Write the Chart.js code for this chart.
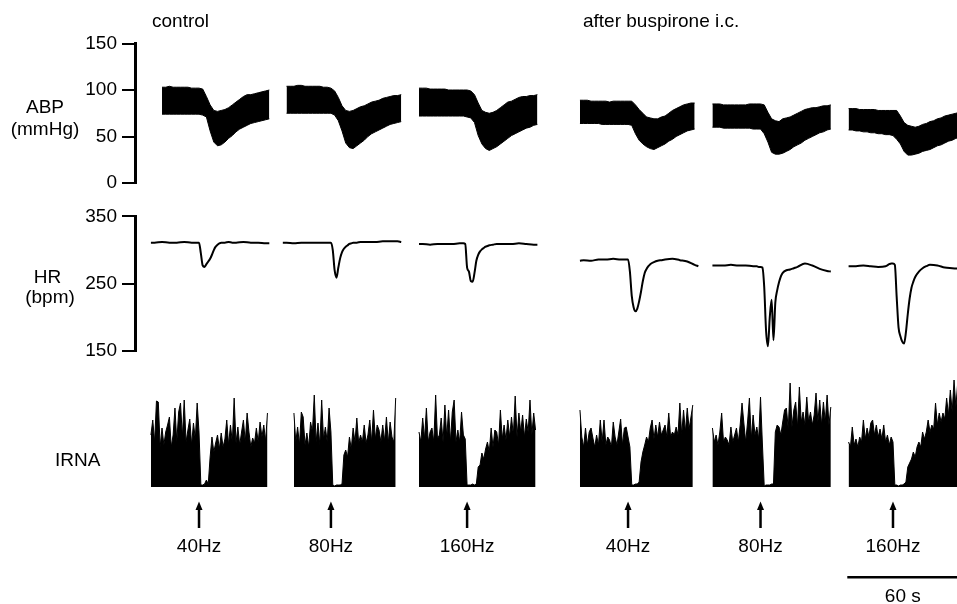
<!DOCTYPE html>
<html><head><meta charset="utf-8">
<script src="https://cdn.jsdelivr.net/npm/chart.js@4.4.0/dist/chart.umd.min.js"></script>
<style>
html,body{margin:0;padding:0;background:#fff;}
#wrap{position:relative;width:957px;height:604px;overflow:hidden;font-family:"Liberation Sans",Arial,Helvetica,sans-serif;color:#000;}
canvas{position:absolute;left:0;}
.lbl{position:absolute;font-size:19px;line-height:19px;white-space:nowrap;}
.c{text-align:center;}
</style></head><body>
<div id="wrap">
<canvas id="abp" width="957" height="200" style="top:0"></canvas>
<canvas id="hr" width="957" height="170" style="top:200px"></canvas>
<canvas id="irna" width="957" height="234" style="top:370px"></canvas>
<div class="lbl" style="left:152px;top:11px">control</div>
<div class="lbl" style="left:583px;top:11px">after buspirone i.c.</div>
<div class="lbl c" style="left:0;width:90px;top:97px">ABP</div>
<div class="lbl c" style="left:0;width:90px;top:119px">(mmHg)</div>
<div class="lbl c" style="left:0;width:95px;top:267px">HR</div>
<div class="lbl c" style="left:0;width:100px;top:287px">(bpm)</div>
<div class="lbl" style="left:55px;top:450px">IRNA</div>
</div>
<script>
const FONT = '"Liberation Sans", Arial, Helvetica, sans-serif';

// composite time axis (s)
const timeMax = 444.3;
const stimTimes = [34.6, 105.9, 179.5, 266.5, 338.1, 409.7];
const stimLabels = ['40Hz', '80Hz', '160Hz', '40Hz', '80Hz', '160Hz'];
const scaleBarStart = 385;
const scaleBarSeconds = 60;

// ABP tick values
const abpTicks = [0, 50, 100, 150];
const hrTicks = [150, 250, 350];

// ABP: time relative to stimulus (s)
const abpRel = [-26,-24,-22,-20,-18,-16,-14,-12,-10,-8,-6,-4,-2,0,2,4,6,8,10,12,14,16,18,20,22,24,26,28,30,32,34,36,38];
// ABP envelope (mmHg): upper (systolic) and lower (diastolic) per panel
const abpUp1 = [null,null,null,103,103,104,103,103,103,103,103,102,102,102,101,93,84,78,77,78,79,81,84,87,90,93,95,95,96,97,98,99,100];
const abpLo1 = [null,null,null,74,74,74,74,74,74,74,74,74,74,74,73,71,56,44,40,41,44,48,51,55,58,60,62,64,65,66,67,68,69];
const abpUp2 = [null,104,104,104,105,105,104,104,104,104,104,103,103,102,99,92,83,78,77,78,80,82,83,85,87,88,89,91,92,93,94,94,95];
const abpLo2 = [null,75,75,75,75,75,75,75,75,75,75,75,75,75,73,67,56,43,38,37,40,43,46,50,53,55,57,59,61,63,64,65,66];
const abpUp3 = [102,102,102,101,101,101,101,101,100,100,100,100,100,100,99,95,86,78,76,75,76,78,81,84,87,88,90,92,93,93,94,94,95];
const abpLo3 = [72,72,72,72,72,72,72,72,72,72,72,72,72,71,70,65,51,42,37,35,37,39,42,45,48,51,53,55,57,59,60,62,63];
const abpUp4 = [89,89,89,88,88,88,88,88,87,88,88,88,88,88,88,84,79,75,71,70,69,69,71,72,75,78,80,82,84,85,86,86,null];
const abpLo4 = [64,64,64,64,64,64,63,63,63,63,63,63,63,63,62,53,46,42,39,37,36,38,40,42,45,47,50,52,54,56,57,58,null];
const abpUp5 = [85,85,85,84,84,84,84,84,84,84,85,85,85,85,84,76,69,67,66,69,70,71,73,75,77,79,80,81,81,82,83,83,84];
const abpLo5 = [60,60,60,59,59,59,59,59,59,59,59,58,58,58,53,44,33,31,31,32,34,36,39,41,43,46,48,50,52,54,55,57,58];
const abpUp6 = [null,80,80,80,79,79,79,79,79,78,78,78,78,78,78,72,65,62,61,60,61,63,64,66,67,69,70,72,73,74,75,76,77];
const abpLo6 = [null,57,57,56,56,55,55,54,54,53,53,52,52,51,47,42,34,30,30,31,32,34,35,36,38,40,41,43,45,46,48,49,50];

// HR: time relative to stimulus (s)
const hrRel = [-26,-24,-20,-16,-12,-8,-4,-2,-1,0,1,2,3,4,5,6,7,8,9,10,11,12,14,16,18,20,24,28,32,36,38];
const hr1 = [311,311,312,311,311,312,311,311,311,311,295,277,275,279,283,287,293,300,305,308,310,311,311,312,311,311,312,311,311,310,310];
const hr2 = [311,311,310,311,311,311,311,311,311,311,300,270,259,274,288,297,302,305,307,309,310,311,311,312,312,312,312,313,313,313,312];
const hr3 = [309,309,308,309,309,309,310,310,309,274,268,254,253,266,284,293,298,301,303,305,306,307,308,309,309,309,309,310,309,308,308];
const hr4 = [284,285,284,286,286,287,286,286,286,286,268,232,215,209,213,224,238,254,266,272,276,279,282,284,285,286,287,285,283,278,276];
const hr5 = [277,277,277,278,277,277,276,276,275,275,274,245,180,157,200,226,166,222,240,252,261,266,270,271,273,275,280,277,272,269,268];
const hr6 = [null,276,276,277,276,275,276,279,280,280,278,230,185,172,164,161,178,205,228,244,253,260,268,273,276,278,277,274,273,272,271];

// IRNA: time relative to stimulus (s), amplitude in arbitrary units
const irnaRel = [-26,-25,-24,-23,-22,-21,-20,-19,-18,-17,-16,-15,-14,-13,-12,-11,-10,-9,-8,-7,-6,-5,-4,-3,-2,-1,0,1,2,3,4,5,6,7,8,9,10,11,12,13,14,15,16,17,18,19,20,21,22,23,24,25,26,27,28,29,30,31,32,33,34,35,36,37,38];
const irna1 = [52,67,45,86,85,40,59,42,55,62,70,40,52,79,45,75,84,50,87,45,57,68,42,64,48,84,55,
  2,2,3,7,3,
  30,50,35,44,52,38,54,40,48,67,42,62,45,89,44,60,42,55,67,45,74,55,40,49,44,59,45,65,50,62,46,74,null];
const irna2 = [null,null,null,null,null,null,
  74,45,60,42,75,70,42,54,40,65,55,92,45,64,42,87,48,60,45,79,55,
  2,1,2,2,2,3,
  32,37,30,50,38,59,45,69,44,52,45,62,44,52,67,45,77,48,62,57,45,62,46,70,44,65,50,45,89,null,null,null];
const irna3 = [55,45,69,48,79,45,55,59,45,92,48,52,69,45,82,50,77,45,75,87,45,57,45,75,52,48,
  2,2,2,3,2,3,
  20,22,34,28,38,45,35,59,40,57,55,42,77,48,62,47,67,50,70,52,91,50,74,55,72,50,68,55,87,52,74,57,null];
const irna4 = [77,50,40,59,42,55,59,49,40,52,42,67,45,67,42,50,47,40,65,50,42,55,68,42,59,60,50,40,
  2,2,3,3,5,
  25,35,42,50,45,59,67,48,62,50,65,52,57,62,50,74,50,55,52,60,52,84,52,77,55,79,58,70,82,null,null,null];
const irna5 = [59,45,52,42,55,74,45,50,47,42,60,45,52,59,45,62,84,64,45,65,89,48,72,52,60,48,90,44,
  1,2,2,2,3,3,
  55,62,60,52,65,77,79,58,104,60,77,85,60,100,65,75,62,90,65,75,62,72,94,65,87,62,85,65,92,62,80];
const irna6 = [null,null,
  45,40,60,42,48,40,50,45,67,48,59,50,64,67,52,62,50,58,48,62,45,52,42,50,45,
  2,2,1,2,2,3,5,
  20,24,28,35,30,40,45,40,55,48,55,67,55,62,58,84,62,74,65,74,68,89,72,97,75,107,80,105,80,90,85];

const abpUpper = [abpUp1, abpUp2, abpUp3, abpUp4, abpUp5, abpUp6];
const abpLower = [abpLo1, abpLo2, abpLo3, abpLo4, abpLo5, abpLo6];
const hrSeries = [hr1, hr2, hr3, hr4, hr5, hr6];
const irnaSeries = [irna1, irna2, irna3, irna4, irna5, irna6];

function pts(rel, vals, p) {
  return rel.map((r, i) => ({ x: stimTimes[p] + r, y: vals[i] }));
}

const xAxis = { type: 'linear', min: 0, max: timeMax, display: false };
function yAxis(min, max, ticksList) {
  return {
    type: 'linear', position: 'left', min: min, max: max,
    afterFit: s => { s.width = 135; },
    afterBuildTicks: s => { s.ticks = ticksList.map(v => ({ value: v })); },
    border: { display: true, color: '#000', width: 3 },
    grid: { drawOnChartArea: false, drawTicks: true, tickLength: 13, tickWidth: 2, lineWidth: 2, color: '#000', tickColor: '#000' },
    ticks: { color: '#000', padding: 5, font: { size: 19, family: FONT } }
  };
}
const common = {
  responsive: false, animation: false, devicePixelRatio: 1, events: [],
  plugins: { legend: { display: false }, tooltip: { enabled: false } },
  elements: { point: { radius: 0 } }
};

// ABP
const abpSets = [];
for (let p = 0; p < 6; p++) {
  abpSets.push({ data: pts(abpRel, abpLower[p], p), borderColor: '#000', borderWidth: 1, fill: false, spanGaps: false });
  abpSets.push({ data: pts(abpRel, abpUpper[p], p), borderColor: '#000', borderWidth: 1, backgroundColor: '#000', fill: '-1', spanGaps: false });
}
new Chart(document.getElementById('abp'), {
  type: 'line', data: { datasets: abpSets },
  options: Object.assign({}, common, {
    layout: { padding: { top: 43.5, bottom: 17, left: 0, right: 0 } },
    scales: { x: xAxis, y: yAxis(0, 150, abpTicks) }
  })
});

// HR
const hrSets = hrSeries.map((s, p) => ({
  data: pts(hrRel, s, p), borderColor: '#000', borderWidth: 2, fill: false,
  cubicInterpolationMode: 'monotone', spanGaps: false
}));
new Chart(document.getElementById('hr'), {
  type: 'line', data: { datasets: hrSets },
  options: Object.assign({}, common, {
    layout: { padding: { top: 15, bottom: 19, left: 0, right: 0 } },
    scales: { x: xAxis, y: yAxis(150, 350, hrTicks) }
  })
});

// IRNA + stimulus markers + time scale bar
const markerPlugin = {
  id: 'markers',
  afterDraw(chart) {
    const ctx = chart.ctx, xs = chart.scales.x;
    ctx.save();
    ctx.fillStyle = '#000'; ctx.strokeStyle = '#000';
    ctx.font = '19px ' + FONT;
    ctx.textAlign = 'center'; ctx.textBaseline = 'alphabetic';
    stimTimes.forEach((t, i) => {
      const x = xs.getPixelForValue(t);
      ctx.lineWidth = 2.5;
      ctx.beginPath(); ctx.moveTo(x, 158); ctx.lineTo(x, 138); ctx.stroke();
      ctx.beginPath(); ctx.moveTo(x, 131.5); ctx.lineTo(x - 3.5, 140); ctx.lineTo(x + 3.5, 140); ctx.closePath(); ctx.fill();
      ctx.fillText(stimLabels[i], x, 181.7);
    });
    const x0 = xs.getPixelForValue(scaleBarStart);
    const x1 = xs.getPixelForValue(scaleBarStart + scaleBarSeconds);
    ctx.lineWidth = 2.5;
    ctx.beginPath(); ctx.moveTo(x0, 207.3); ctx.lineTo(x1, 207.3); ctx.stroke();
    ctx.fillText(scaleBarSeconds + ' s', (x0 + x1) / 2, 231.7);
    ctx.restore();
  }
};
const irnaSets = irnaSeries.map((s, p) => ({
  data: pts(irnaRel, s, p), borderColor: '#000', borderWidth: 1, backgroundColor: '#000',
  fill: 'origin', tension: 0, spanGaps: false
}));
new Chart(document.getElementById('irna'), {
  type: 'line', data: { datasets: irnaSets },
  options: Object.assign({}, common, {
    layout: { padding: { top: 7, bottom: 117, left: 135, right: 0 } },
    scales: { x: xAxis, y: { type: 'linear', min: 0, max: 110, display: false } }
  }),
  plugins: [markerPlugin]
});
</script>
</body></html>
